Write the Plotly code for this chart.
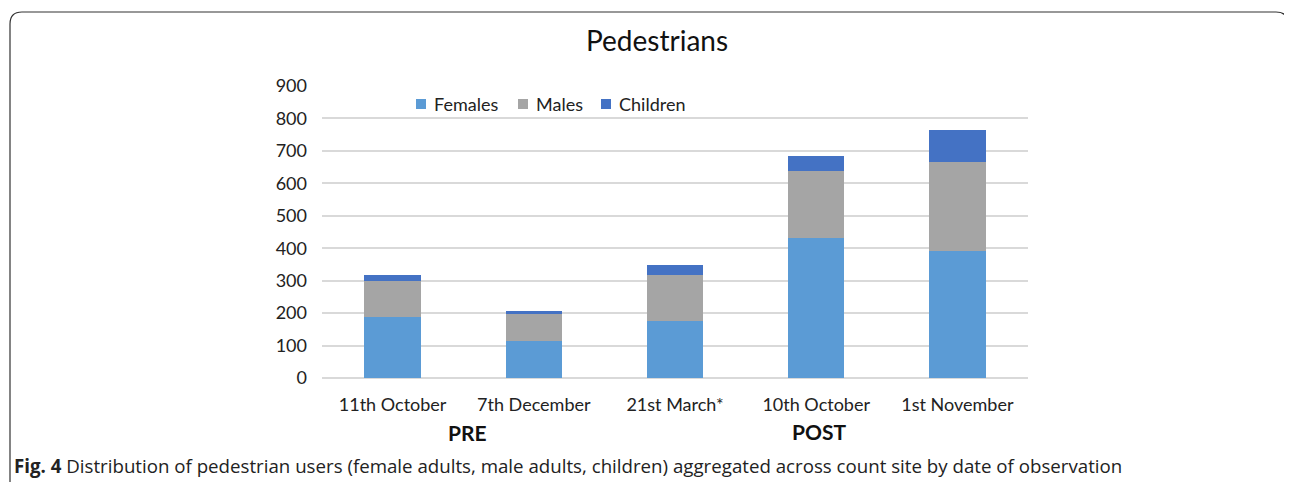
import plotly.graph_objects as go

dates = ["11th October", "7th December", "21st March*", "10th October", "1st November"]
females = [188, 113, 175, 433, 392]
males = [112, 83, 143, 206, 274]
children = [17, 9, 31, 44, 97]
y_ticks = [0, 100, 200, 300, 400, 500, 600, 700, 800, 900]
series_names = ["Females", "Males", "Children"]
series_colors = ["#5B9BD5", "#A5A5A5", "#4472C4"]

FONT = "Lato"
OFF = 8  # page body margin
W, H = 1292 - OFF, 482 - OFF
L, R, T, B = 322, 1028, 86, 378  # plot area in reference pixel coords

def px(x):
    return (x - L) / (R - L)

def py(y):
    return (B - y) / (B - T)

fig = go.Figure()
for name, vals, col in zip(series_names, [females, males, children], series_colors):
    fig.add_bar(name=name, x=dates, y=vals, marker=dict(color=col, line=dict(width=0)), showlegend=False)

# rounded border
r = 12
x0, y0, x1, y1 = 10, 12, 1288, 490
path = (f"M {px(x0)},{py(y1)} L {px(x0)},{py(y0 + r)} "
        f"Q {px(x0)},{py(y0)} {px(x0 + r)},{py(y0)} "
        f"L {px(x1 - r)},{py(y0)} Q {px(x1)},{py(y0)} {px(x1)},{py(y0 + r)} "
        f"L {px(x1)},{py(y1)}")

shapes = [dict(type="path", xref="paper", yref="paper", path=path,
               line=dict(color="#333333", width=1.2), fillcolor="rgba(0,0,0,0)", layer="below")]
annotations = []

# custom legend
legend_x = [421, 523, 606]
leg_y = 104
for name, col, lx in zip(series_names, series_colors, legend_x):
    shapes.append(dict(type="rect", xref="paper", yref="paper",
                       x0=px(lx - 5), x1=px(lx + 5), y0=py(leg_y + 5), y1=py(leg_y - 5),
                       fillcolor=col, line=dict(width=0)))
    annotations.append(dict(text=name, x=px(lx + 11), y=py(leg_y), xref="paper", yref="paper",
                            showarrow=False, xanchor="left", yanchor="middle",
                            font=dict(family=FONT, size=18, color="#222222")))

annotations += [
    dict(text="<b>PRE</b>", x=px(467), y=py(432), xref="paper", yref="paper", showarrow=False,
         xanchor="center", yanchor="middle", font=dict(family=FONT, size=21, color="#111111")),
    dict(text="<b>POST</b>", x=px(819), y=py(431), xref="paper", yref="paper", showarrow=False,
         xanchor="center", yanchor="middle", font=dict(family=FONT, size=21, color="#111111")),
    dict(text="<b>Fig. 4</b> Distribution of pedestrian users (female adults, male adults, children) aggregated across count site by date of observation",
         x=px(12), y=py(466), xref="paper", yref="paper", showarrow=False,
         xanchor="left", yanchor="middle", font=dict(family="Open Sans", size=18.7, color="#222222")),
    dict(text="Pedestrians", x=px(657), y=py(40), xref="paper", yref="paper", showarrow=False,
         xanchor="center", yanchor="middle", font=dict(family=FONT, size=28, color="#111111")),
]

fig.update_layout(
    width=W, height=H,
    barmode="stack", bargap=0.6,
    margin=dict(l=L - OFF, r=W - (R - OFF), t=T - OFF, b=H - (B - OFF), autoexpand=False),
    paper_bgcolor="white", plot_bgcolor="white",
    font=dict(family=FONT, size=18, color="#222222"),
    showlegend=False,
    xaxis=dict(showgrid=False, showline=False, ticks="", tickfont=dict(size=18), fixedrange=True,
               ticklabelstandoff=14),
    yaxis=dict(range=[0, 900], tickvals=y_ticks, showgrid=True, gridcolor="#D9D9D9", gridwidth=1.5,
               zeroline=True, zerolinecolor="#D9D9D9", zerolinewidth=1.5, showline=False,
               ticks="", tickfont=dict(size=18), ticklabelstandoff=14),
    shapes=shapes,
    annotations=annotations,
)

fig.write_html("out.html")
